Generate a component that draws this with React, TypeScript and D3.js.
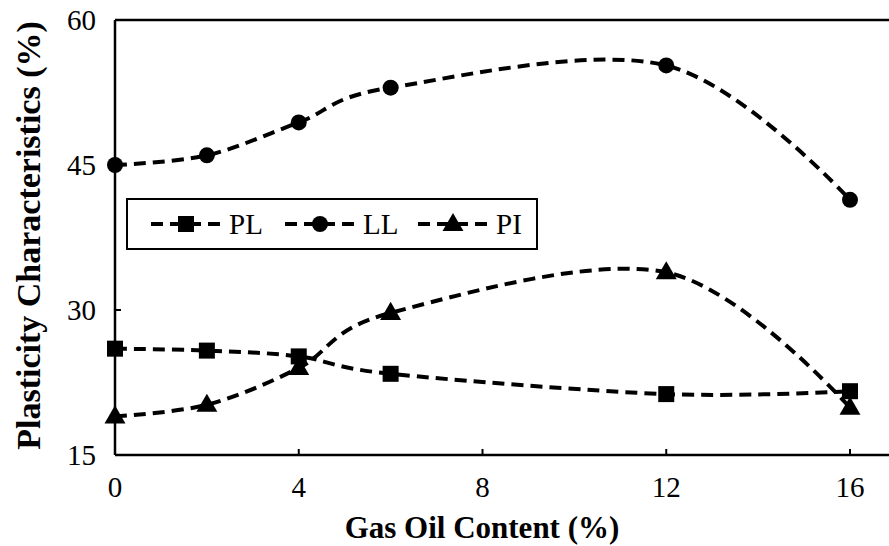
import React from 'react';
import * as d3 from 'd3';

const gasOil = [0, 2, 4, 6, 12, 16];
const plValues = [26.0, 25.8, 25.2, 23.4, 21.3, 21.6];
const llValues = [45.0, 46.0, 49.4, 53.0, 55.3, 41.4];
const piValues = [19.0, 20.2, 24.0, 29.7, 33.9, 19.9];
const xTicks = [0, 4, 8, 12, 16];
const yTicks = [15, 30, 45, 60];

const W = 889;
const H = 546;
const font = '"Liberation Serif", "Times New Roman", serif';

const series = [
  { name: 'PL', values: plValues, marker: 'square' },
  { name: 'LL', values: llValues, marker: 'circle' },
  { name: 'PI', values: piValues, marker: 'triangle' },
];

function Marker({ type, x, y }: { type: string; x: number; y: number }) {
  if (type === 'square') return <rect x={x - 8} y={y - 8} width={16} height={16} fill="#000" />;
  if (type === 'circle') return <circle cx={x} cy={y} r={8} fill="#000" />;
  const p = d3.symbol(d3.symbolTriangle, 190)();
  return <path d={p || ''} transform={`translate(${x},${y + 1})`} fill="#000" />;
}

export default function App() {
  const x = d3.scaleLinear().domain([0, 16]).range([115, 850]);
  const y = d3.scaleLinear().domain([15, 60]).range([455, 20]);
  const line = d3.line<number>()
    .x((_, i) => x(gasOil[i]))
    .y(d => y(d))
    .curve(d3.curveCatmullRom.alpha(0));

  const legendItems = [
    { x0: 151, label: 'PL', marker: 'square' },
    { x0: 285, label: 'LL', marker: 'circle' },
    { x0: 418, label: 'PI', marker: 'triangle' },
  ];

  return (
    <svg width={W} height={H} style={{ position: 'absolute', left: 0, top: 0, background: '#fff' }}>
      {/* frame */}
      <line x1={x(0)} x2={W} y1={y(60)} y2={y(60)} stroke="#000" strokeWidth={2.5} />
      <line x1={x(0)} x2={W} y1={y(15)} y2={y(15)} stroke="#000" strokeWidth={2.5} />
      <line x1={x(0)} x2={x(0)} y1={y(60)} y2={y(15)} stroke="#000" strokeWidth={2.5} />

      {xTicks.map(t => (
        <g key={'x' + t}>
          <line x1={x(t)} x2={x(t)} y1={y(15)} y2={y(15) - 6} stroke="#000" strokeWidth={2} />
          <text x={x(t)} y={497} textAnchor="middle" fontFamily={font} fontSize={29}>{t}</text>
        </g>
      ))}
      {yTicks.map(t => (
        <g key={'y' + t}>
          <line x1={x(0)} x2={x(0) + 6} y1={y(t)} y2={y(t)} stroke="#000" strokeWidth={2} />
          <text x={96} y={y(t) + 10} textAnchor="end" fontFamily={font} fontSize={29}>{t}</text>
        </g>
      ))}

      {series.map(s => (
        <g key={s.name}>
          <path d={line(s.values) || ''} fill="none" stroke="#000" strokeWidth={4} strokeDasharray="12,7" />
          {s.values.map((v, i) => <Marker key={i} type={s.marker} x={x(gasOil[i])} y={y(v)} />)}
        </g>
      ))}

      {/* legend */}
      <rect x={127} y={199} width={410} height={50} fill="#fff" stroke="#000" strokeWidth={2} />
      {legendItems.map(l => (
        <g key={l.label}>
          <line x1={l.x0} x2={l.x0 + 70} y1={224} y2={224} stroke="#000" strokeWidth={4} strokeDasharray="12,7" />
          <Marker type={l.marker} x={l.x0 + 35} y={224} />
          <text x={l.x0 + 78} y={234} fontFamily={font} fontSize={29}>{l.label}</text>
        </g>
      ))}

      <text x={482} y={538} textAnchor="middle" fontFamily={font} fontSize={31} fontWeight="bold">Gas Oil Content (%)</text>
      <text transform={`translate(40,${y(37.5) - 2}) rotate(-90)`} textAnchor="middle" fontFamily={font} fontSize={34} fontWeight="bold">Plasticity Characteristics (%)</text>
    </svg>
  );
}
